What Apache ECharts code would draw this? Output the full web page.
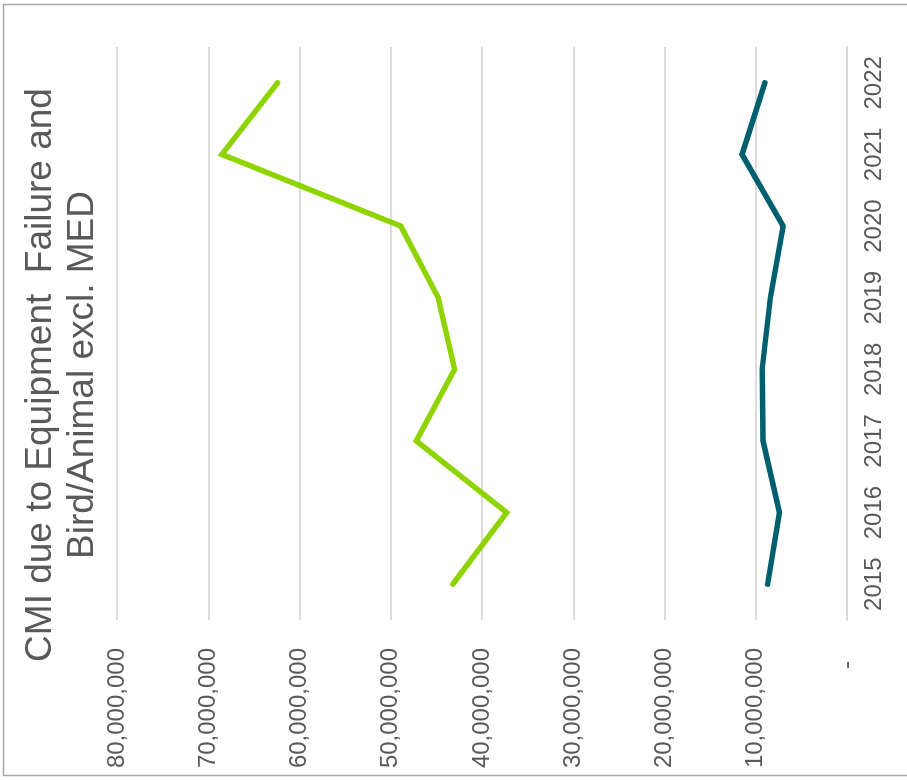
<!DOCTYPE html>
<html>
<head>
<meta charset="utf-8">
<script src="https://cdn.jsdelivr.net/npm/echarts@6/dist/echarts.min.js"></script>
<style>
  html, body { margin: 0; padding: 0; background: #ffffff; overflow: hidden; }
  #page { width: 907px; height: 780px; position: relative; overflow: hidden; }
  /* the chart is laid out upright and turned a quarter turn counter-clockwise */
  #chart {
    position: absolute; left: 0; top: 0;
    width: 780px; height: 907px;
    transform-origin: 0 0;
    transform: translateY(780px) rotate(-90deg);
  }
</style>
</head>
<body>
<div id="page"><div id="chart"></div></div>
<script>
// Years on the category axis
const years = ['2015', '2016', '2017', '2018', '2019', '2020', '2021', '2022'];

// Customer minutes interrupted (CMI), excluding major event days
const equipmentFailureCMI = [43200000, 37300000, 47200000, 43000000, 44800000, 48900000, 68500000, 62400000];
const birdAnimalCMI = [8700000, 7400000, 9200000, 9300000, 8400000, 7000000, 11500000, 9000000];

// Value axis ticks
const valueMin = 0;
const valueMax = 80000000;
const valueStep = 10000000;

const titleLines = ['CMI due to Equipment  Failure and', 'Bird/Animal excl. MED'];

const textColor = '#595959';
const fontFamily = 'Arial, "Liberation Sans", Helvetica, sans-serif';

const chart = echarts.init(document.getElementById('chart'), null, { renderer: 'canvas' });

chart.setOption({
  animation: false,
  backgroundColor: '#ffffff',
  graphic: [
    {
      type: 'rect',
      left: 2, top: 1,
      shape: { x: 0, y: 0, width: 771, height: 920 },
      style: { fill: 'none', stroke: '#a6a6a6', lineWidth: 1.5 },
      silent: true
    },
    {
      type: 'text',
      x: 405, y: 62,
      style: {
        text: titleLines.join('\n'),
        fill: textColor,
        font: '37px ' + fontFamily,
        lineHeight: 42,
        align: 'center',
        verticalAlign: 'middle'
      },
      silent: true
    }
  ],
  grid: { left: 160, right: 47, top: 117, bottom: 60 },
  xAxis: {
    type: 'category',
    data: years,
    boundaryGap: true,
    axisLine: { show: true, lineStyle: { color: '#d9d9d9', width: 2 } },
    axisTick: { show: false },
    axisLabel: { color: textColor, fontSize: 24, fontFamily: fontFamily, margin: 15 }
  },
  yAxis: {
    type: 'value',
    min: valueMin,
    max: valueMax,
    interval: valueStep,
    axisLine: { show: false },
    axisTick: { show: false },
    splitLine: { show: true, lineStyle: { color: '#dcdcdc', width: 2 } },
    axisLabel: {
      color: textColor,
      fontSize: 24,
      fontFamily: fontFamily,
      margin: 28,
      formatter: function (v) {
        if (v === 0) return '{z|-}';
        return v.toLocaleString('en-US');
      },
      rich: {
        z: { color: textColor, fontSize: 24, fontFamily: fontFamily, padding: [0, 13, 0, 0] }
      }
    }
  },
  series: [
    {
      name: 'Equipment Failure',
      type: 'line',
      data: equipmentFailureCMI,
      symbol: 'none',
      lineStyle: { color: '#8fd400', width: 5.5, cap: 'round', join: 'miter' },
      itemStyle: { color: '#8fd400' }
    },
    {
      name: 'Bird/Animal',
      type: 'line',
      data: birdAnimalCMI,
      symbol: 'none',
      lineStyle: { color: '#005f6e', width: 5.5, cap: 'round', join: 'miter' },
      itemStyle: { color: '#005f6e' }
    }
  ]
});
</script>
</body>
</html>
